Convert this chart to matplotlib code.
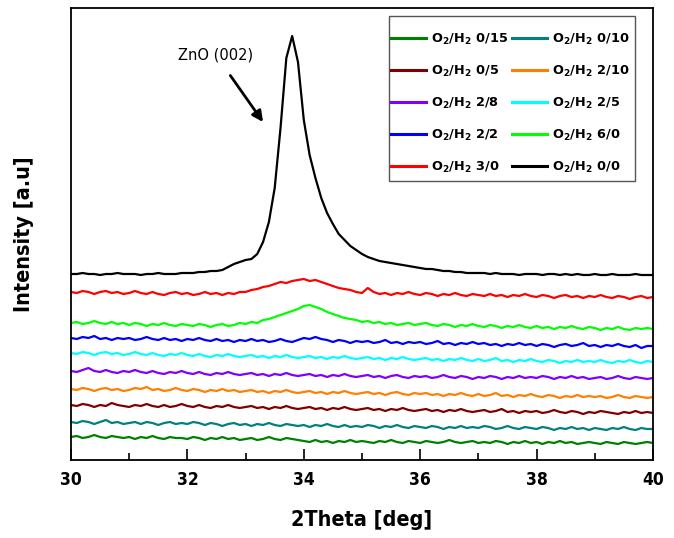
import numpy as np
import matplotlib
matplotlib.use("Agg")
import matplotlib.pyplot as plt
from matplotlib.patches import Rectangle

# 2Theta grid, 0.1 deg step
two_theta = np.round(np.arange(300, 401) / 10.0, 1)

# intensity (a.u.)
i_0_0 = [186, 186, 187, 186, 186, 185, 186, 186, 187, 186,
         186, 186, 185, 186, 186, 187, 186, 186, 186, 187,
         187, 187, 188, 188, 189, 189, 190, 193, 196, 198,
         200, 201, 206, 218, 238, 272, 332, 402, 424, 398,
         340, 305, 282, 262, 247, 236, 226, 220, 214, 210,
         206, 203, 201, 199, 198, 197, 196, 195, 194, 193,
         192, 191, 191, 190, 189, 189, 188, 188, 187, 187,
         187, 187, 186, 187, 186, 186, 186, 185, 186, 186,
         186, 185, 186, 186, 185, 186, 185, 186, 185, 185,
         186, 185, 185, 186, 185, 185, 185, 186, 185, 185,
         185]
i_3_0 = [168, 167, 169, 168, 166, 168, 169, 167, 168, 166,
         167, 169, 167, 166, 168, 166, 165, 167, 168, 166,
         167, 165, 166, 168, 166, 167, 165, 167, 166, 168,
         168, 170, 171, 173, 174, 176, 178, 177, 179, 180,
         181, 179, 180, 178, 176, 174, 172, 171, 170, 168,
         167, 172, 168, 166, 167, 165, 167, 166, 168, 166,
         165, 167, 166, 164, 166, 165, 167, 165, 164, 166,
         165, 164, 166, 164, 165, 163, 165, 164, 166, 164,
         163, 165, 164, 162, 164, 165, 163, 164, 162, 164,
         163, 165, 163, 162, 164, 163, 161, 163, 164, 162,
         163]
i_6_0 = [137, 138, 136, 137, 139, 137, 136, 138, 136, 137,
         135, 137, 136, 134, 136, 135, 137, 135, 134, 136,
         135, 134, 136, 135, 133, 135, 136, 134, 135, 137,
         136, 138, 137, 140, 141, 143, 145, 147, 149, 151,
         154, 155, 153, 151, 148, 146, 144, 142, 141, 140,
         138, 139, 137, 138, 136, 137, 135, 136, 137, 135,
         136, 137, 135, 134, 136, 135, 133, 135, 134, 136,
         134, 133, 135, 134, 132, 134, 133, 135, 133, 132,
         134, 132, 133, 131, 133, 132, 134, 132, 131, 133,
         132, 130, 132, 131, 133, 131, 130, 132, 131, 132,
         131]
i_2_2 = [122, 121, 123, 122, 124, 121, 122, 120, 122, 121,
         122, 120, 121, 123, 121, 120, 122, 120, 121, 119,
         121, 120, 122, 120, 119, 121, 119, 120, 118, 120,
         119, 121, 119, 120, 118, 119, 121, 119, 118, 120,
         122, 121, 123, 121, 120, 118, 120, 119, 117, 119,
         118, 119, 117, 118, 120, 117, 118, 116, 118, 117,
         118, 116, 117, 119, 116, 117, 115, 117, 116, 118,
         116, 117, 115, 116, 114, 116, 115, 117, 115, 116,
         114, 116, 115, 113, 115, 116, 114, 115, 117, 114,
         115, 113, 115, 114, 116, 114, 113, 115, 112, 114,
         114]
i_2_5 = [107, 106, 108, 107, 105, 107, 108, 106, 107, 105,
         106, 108, 106, 105, 107, 105, 104, 106, 105, 107,
         105, 104, 106, 104, 103, 105, 104, 106, 104, 103,
         104, 105, 103, 104, 102, 104, 103, 105, 103, 102,
         103, 104, 102, 103, 101, 103, 102, 104, 102, 101,
         102, 103, 101, 102, 100, 102, 101, 103, 101, 100,
         101, 102, 100, 101, 99, 101, 100, 102, 100, 99,
         101, 99, 100, 102, 99, 100, 98, 100, 99, 101,
         99, 98, 100, 99, 97, 99, 98, 100, 98, 99,
         98, 100, 98, 97, 99, 98, 100, 98, 97, 99,
         98]
i_2_8 = [89, 88, 90, 92, 89, 88, 90, 88, 87, 89,
         88, 90, 88, 87, 89, 87, 86, 88, 87, 89,
         87, 86, 88, 86, 85, 87, 86, 88, 86, 85,
         86, 87, 85, 86, 84, 86, 85, 87, 85, 84,
         85, 86, 84, 85, 83, 85, 84, 86, 84, 83,
         84, 85, 83, 84, 82, 84, 85, 83, 82, 84,
         83, 84, 82, 83, 85, 83, 82, 84, 83, 81,
         83, 82, 84, 83, 81, 83, 82, 84, 82, 83,
         82, 84, 83, 81, 83, 82, 84, 82, 83, 81,
         82, 83, 81, 82, 84, 82, 81, 83, 82, 81,
         82]
i_2_10 = [71, 70, 72, 71, 69, 71, 72, 70, 71, 69,
          70, 72, 71, 73, 70, 71, 69, 70, 72, 70,
          69, 71, 70, 68, 70, 69, 71, 69, 70, 68,
          69, 70, 68, 69, 67, 69, 68, 70, 68, 67,
          68, 69, 67, 68, 66, 68, 67, 69, 67, 66,
          67, 68, 66, 67, 65, 67, 68, 66, 65, 67,
          66, 67, 65, 66, 64, 66, 65, 67, 65, 64,
          66, 64, 65, 67, 64, 65, 63, 65, 64, 66,
          64, 63, 65, 64, 62, 64, 63, 65, 63, 64,
          63, 64, 62, 63, 65, 63, 62, 64, 63, 62,
          63]
i_0_5 = [55, 54, 56, 55, 53, 55, 54, 57, 55, 54,
         53, 55, 54, 56, 54, 53, 55, 53, 54, 56,
         54, 53, 55, 53, 52, 54, 53, 55, 53, 52,
         53, 54, 52, 53, 51, 53, 52, 54, 52, 51,
         52, 53, 51, 52, 50, 52, 51, 53, 51, 50,
         51, 52, 50, 51, 49, 51, 50, 52, 50, 49,
         50, 51, 49, 50, 48, 50, 49, 51, 49, 48,
         49, 50, 48, 49, 51, 48, 49, 47, 49, 48,
         49, 47, 48, 50, 48, 47, 49, 48, 46, 48,
         47, 49, 48, 47, 46, 48, 47, 49, 47, 48,
         47]
i_0_10 = [38, 37, 39, 38, 36, 38, 40, 37, 38, 36,
          37, 38, 36, 38, 37, 35, 37, 38, 36, 37,
          36, 38, 37, 35, 37, 36, 34, 36, 37, 35,
          36, 34, 36, 35, 37, 35, 34, 36, 35, 34,
          35, 33, 35, 34, 36, 34, 33, 35, 33, 34,
          33, 35, 34, 32, 34, 33, 35, 33, 32, 34,
          33, 32, 34, 33, 31, 33, 32, 34, 32, 33,
          32, 34, 33, 31, 32, 34, 32, 31, 33, 32,
          31, 33, 32, 30, 32, 31, 33, 31, 32, 30,
          32, 31, 30, 32, 31, 33, 31, 30, 32, 31,
          31]
i_0_15 = [23, 24, 22, 23, 25, 23, 22, 24, 23, 22,
          23, 21, 23, 22, 24, 22, 21, 23, 22, 22,
          21, 23, 22, 20, 22, 21, 23, 21, 22, 20,
          21, 22, 20, 21, 23, 21, 20, 22, 21, 20,
          19, 18, 20, 18, 19, 17, 19, 18, 20, 18,
          19, 18, 17, 19, 18, 20, 18, 17, 19, 18,
          17, 19, 18, 17, 18, 20, 18, 17, 18, 19,
          17, 18, 17, 19, 18, 16, 18, 17, 19, 17,
          18, 16, 18, 17, 19, 17, 18, 16, 17, 18,
          17, 16, 18, 17, 16, 18, 17, 16, 17, 18,
          17]

# legend order (two columns, filled column by column)
ratios = ["0/15", "0/5", "2/8", "2/2", "3/0",
          "0/10", "2/10", "2/5", "6/0", "0/0"]
series = [i_0_15, i_0_5, i_2_8, i_2_2, i_3_0,
          i_0_10, i_2_10, i_2_5, i_6_0, i_0_0]
colors = ["#008000", "#800000", "#8000ff", "#0000ff", "#ff0000",
          "#008080", "#ff8000", "#00ffff", "#00ff00", "#000000"]

plt.rcParams["mathtext.default"] = "bf"

W, H = 674, 538
fig = plt.figure(figsize=(W / 100, H / 100), dpi=100)
ax = fig.add_axes([71 / W, 1 - 460 / H, 582 / W, 452 / H])

for r, y, c in zip(ratios, series, colors):
    ax.plot(two_theta, y, color=c, lw=1.6, label=r"O$_2$/H$_2$ " + r)

ax.set_xlim(30, 40)
ax.set_ylim(0, 452)
ax.set_xticks([30, 32, 34, 36, 38, 40])
ax.set_xticks(np.arange(31, 40, 2), minor=True)
ax.set_yticks([])
ax.tick_params(axis="x", which="major", direction="in", length=8, width=1.2, pad=8)
ax.tick_params(axis="x", which="minor", direction="in", length=5, width=1.2)
for lab in ax.get_xticklabels():
    lab.set_fontweight("bold")
    lab.set_fontstretch("condensed")
    lab.set_fontsize(12.5)
for s in ax.spines.values():
    s.set_linewidth(1.3)

ax.set_xlabel("2Theta [deg]", fontweight="bold", fontstretch="condensed",
              fontsize=15.5, labelpad=15)
ax.set_ylabel("Intensity [a.u]", fontweight="bold", fontstretch="condensed",
              fontsize=15.5, labelpad=27)

ax.annotate("ZnO (002)", xy=(33.30, 338), xytext=(32.49, 405),
            ha="center", va="center", fontsize=10.5,
            arrowprops=dict(arrowstyle="-|>", color="black", lw=2,
                            mutation_scale=16, shrinkA=9, shrinkB=0))

# legend box drawn by hand, content placed inside it
box = Rectangle((389 / W, 1 - 181 / H), 246 / W, 165 / H,
                transform=fig.transFigure, facecolor="white",
                edgecolor="#555555", lw=1.0, zorder=3, clip_on=False)
ax.add_patch(box)
leg = ax.legend(loc="upper left", bbox_to_anchor=(391 / W, 1 - 32 / H),
                bbox_transform=fig.transFigure, ncol=2,
                prop={"weight": "bold", "size": 9.3}, frameon=False,
                borderaxespad=0, borderpad=0,
                handlelength=2.7, handletextpad=0.4, columnspacing=0.3,
                labelspacing=1.3)
leg.set_zorder(6)
for h in leg.get_lines():
    h.set_linewidth(2.2)

fig.savefig("out.png", dpi=100)
